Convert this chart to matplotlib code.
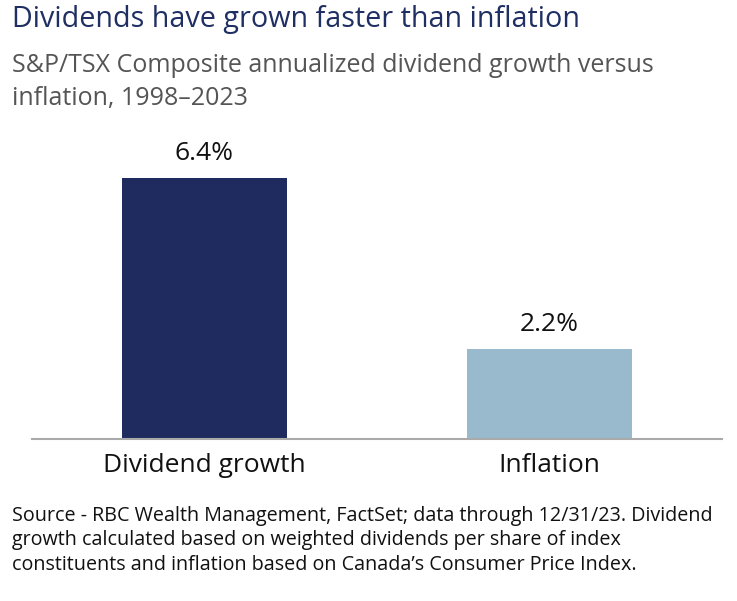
import matplotlib
matplotlib.use("Agg")
import matplotlib.pyplot as plt

categories = ["Dividend growth", "Inflation"]
values = [6.4, 2.2]
value_labels = ["6.4%", "2.2%"]
colors = ["#1f2b5e", "#98bacc"]

title = "Dividends have grown faster than inflation"
subtitle_lines = ["S&P/TSX Composite annualized dividend growth versus",
                  "inflation, 1998\u20132023"]
source_lines = ["Source - RBC Wealth Management, FactSet; data through 12/31/23. Dividend",
                "growth calculated based on weighted dividends per share of index",
                "constituents and inflation based on Canada\u2019s Consumer Price Index."]

plt.rcParams['font.family'] = ['Open Sans', 'DejaVu Sans']

W, H = 737, 601
fig = plt.figure(figsize=(W / 100, H / 100), dpi=100)
fig.patch.set_facecolor("white")

# axes: x 32..722, y 140..439 (pixels from top)
ax = fig.add_axes([32 / W, 1 - 439 / H, 690 / W, 299 / H])
x = list(range(len(categories)))
ax.bar(x, values, width=0.48, color=colors)
ax.set_xlim(-0.5, 1.5)
ax.set_ylim(0, 7.32)
for xi, v, lab in zip(x, values, value_labels):
    ax.annotate(lab, (xi, v), xytext=(0, 17.5), textcoords="offset points",
                ha="center", va="center", fontsize=19, color="#111111")
ax.set_xticks(x)
ax.set_xticklabels(categories, fontsize=19, color="#111111")
ax.tick_params(axis="x", length=0, pad=10)
ax.set_yticks([])
for s in ["top", "right", "left"]:
    ax.spines[s].set_visible(False)
ax.spines["bottom"].set_color("#aaaaaa")
ax.spines["bottom"].set_linewidth(1.5)

fig.text(12 / W, 1 - 20 / H, title, fontsize=20.7, color="#1f2f63",
         ha="left", va="center")
for i, line in enumerate(subtitle_lines):
    fig.text(12 / W, 1 - (66 + 32 * i) / H, line, fontsize=18, color="#555555",
             ha="left", va="center")
for i, line in enumerate(source_lines):
    fig.text(12 / W, 1 - (516 + 24.5 * i) / H, line, fontsize=14.2, color="#111111",
             ha="left", va="center")

fig.savefig("out.png", dpi=100, facecolor="white")
